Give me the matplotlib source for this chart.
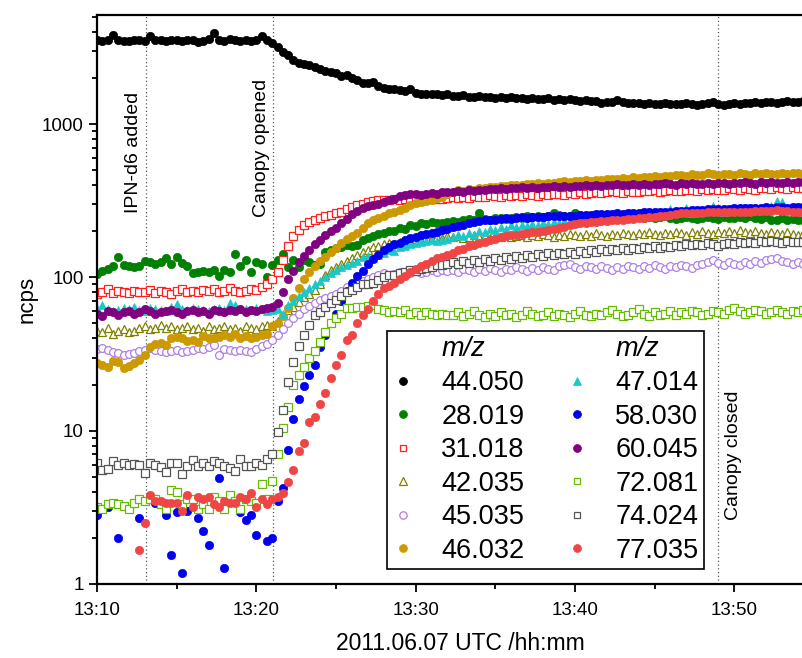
import numpy as np
import matplotlib
matplotlib.use("Agg")
import matplotlib.pyplot as plt
from matplotlib.lines import Line2D
from matplotlib.ticker import FixedLocator, NullFormatter

plt.rcParams['font.family'] = ['Liberation Sans', 'DejaVu Sans']

nan = np.nan
SAMPLE_S = 20  # instrument cycle time, seconds (time axis in minutes after 13:10)

mz_44_050 = [3550, 3500, 3550, 3800, 3550, 3500, 3500, 3550, 3550, 3500, 3750, 3550, 3550, 3500, 3550, 3550, 3500,
             3550, 3550, 3450, 3500, 3600, 3900, 3550, 3500, 3600, 3550, 3500, 3550, 3500, 3550, 3750, 3550, 3400,
             3200, 2950, 2800, 2600, 2500, 2480, 2420, 2350, 2300, 2220, 2170, 2140, 2060, 2100, 2000, 1950, 1850,
             1860, 1870, 1770, 1720, 1690, 1680, 1660, 1650, 1690, 1600, 1570, 1560, 1560, 1580, 1540, 1560,
             1530, 1520, 1540, 1510, 1500, 1520, 1490, 1500, 1480, 1490, 1470, 1500, 1480, 1470, 1460, 1480, 1450,
             1460, 1470, 1440, 1450, 1430, 1450, 1440, 1420, 1430, 1410, 1420, 1380, 1390, 1400, 1430, 1390, 1380,
             1370, 1380, 1360, 1370, 1360, 1350, 1370, 1360, 1350, 1360, 1380, 1360, 1340, 1350, 1370, 1390, 1350,
             1340, 1360, 1370, 1360, 1380, 1370, 1390, 1380, 1400, 1390, 1380, 1400, 1410, 1390, 1400, 1420]
mz_28_019 = [105, 110, 114, 118, 135, 120, 119, 116, 118, 127, 125, 122, 125, 133, 122, 136, 124, 118, 106, 109, 110,
             109, 112, 102, 111, 108, 143, 118, 129, 108, 125, 123, 100, 120,
             130, 143, 116, 129, 116, 129, 125, 120, 122, 146, 150, 155, 157, 162, 160, 162, 175, 180, 185, 193, 195,
             202, 200, 211, 208, 218, 215, 226, 222, 228, 225, 225, 228,
             232, 230, 235, 240, 238, 262, 240, 238, 242, 245, 240, 245, 248, 244, 250, 246, 252, 248, 250, 262, 255,
             250, 252, 262, 255, 250, 248, 252, 246, 250, 242, 245, 248, 244, 250, 246, 245, 248, 242, 246, 250, 244,
             240, 242, 248, 245, 240, 244, 246, 242, 240, 248, 244, 242, 246, 242, 250, 244, 240, 246, 238, 235, 242,
             238, 240, 235, 238]
mz_31_018 = [78, 80, 84, 79, 82, 80, 79, 81, 80, 80, 83, 79, 81, 80, 78, 82, 84, 80, 82, 80, 83, 81, 84, 80, 82, 85,
             81, 80, 82, 84, 83, 86, 91, 98,
             108, 130, 160, 185, 205, 220, 228, 235, 242, 250, 255, 262, 266, 280, 288, 295, 302, 310, 316, 318, 320,
             318, 322, 320, 324, 318, 322, 320, 326, 322, 326, 322, 328,
             332, 328, 335, 330, 338, 334, 336, 342, 338, 335, 344, 340, 346, 341, 348, 343, 339, 350, 346, 352, 348,
             345, 355, 350, 358, 352, 356, 362, 354, 358, 364, 360, 356, 366, 362, 358, 368, 364, 370, 362, 366, 372,
             368, 364, 374, 370, 366, 376, 372, 378, 370, 374, 380, 376, 372, 382, 378, 374, 384, 380, 376, 386, 382,
             378, 388, 384, 380]
mz_42_035 = [45, 44, 47, 43, 45, 46, 44, 45, 47, 48, 46, 47, 49, 47, 48, 46, 47, 48, 46, 47, 45, 48, 46, 47, 48, 46,
             47, 45, 48, 47, 46, 48, 49, 48,
             52, 57, 61, 64, 69, 74, 78, 83, 90, 103, 111, 117, 122, 127, 133, 139, 146, 150, 157, 160, 164, 167, 165,
             169, 172, 170, 178, 176, 182, 180, 184, 181, 185,
             183, 186, 180, 184, 188, 183, 186, 181, 187, 184, 189, 182, 186, 190, 184, 188, 185, 191, 188, 184, 190,
             186, 193, 188, 185, 191, 187, 194, 189, 186, 193, 190, 196, 191, 188, 195, 192, 198, 193, 189, 196, 192,
             199, 194, 190, 197, 193, 200, 195, 191, 198, 194, 201, 196, 204, 198, 194, 200, 196, 192, 199, 195, 191,
             197, 193, 190, 195]
mz_45_035 = [34, 34.5, 33.5, 32.5, 32, 31, 31.5, 32, 33, 33.5, 34.5, 33.5, 33, 32.5, 33, 33.5, 32.5, 33, 33.5, 34.5,
             34, 35, 36, 31, 34, 33.5, 33, 33.5, 33, 32.5, 34, 35.5, 37, 39,
             42, 46, 50, 54, 58, 62, 65, 68, 71, 73, 75, 78, 82, 86, 89, 91, 95, 98, 100, 104, 106, 103, 105, 108, 104,
             107, 110, 106, 108, 111, 109, 112, 110,
             112, 109, 114, 111, 108, 113, 110, 115, 112, 109, 114, 111, 116, 113, 110, 115, 112, 117, 114, 111, 118,
             121, 123, 117, 114, 119, 116, 113, 118, 115, 112, 117, 114, 119, 116, 113, 118, 115, 120, 117, 114, 119,
             116, 121, 118, 115, 120, 123, 126, 129, 124, 121, 126, 123, 120, 125, 122, 127, 124, 129, 131, 133, 128,
             125, 123, 126, 122]
mz_46_032 = [27.5, 27, 26, 28.5, 28, 25.5, 26.5, 27.5, 29, 31, 35, 37, 37.5, 36, 40.5, 41, 40, 38.5, 39, 38, 41.5,
             40.5, 40, 41, 42, 41, 42.5, 40, 41.5, 40.5, 41, 42, 43, 48,
             50, 56, 63, 73, 85, 98, 108, 118, 128, 136, 146, 156, 168, 178, 185, 195, 210, 225, 235, 245, 252, 262,
             266, 275, 285, 295, 305, 310, 316, 320, 328, 335, 350,
             362, 370, 366, 378, 374, 385, 382, 390, 386, 395, 392, 398, 402, 398, 406, 404, 410, 406, 415, 412, 418,
             422, 418, 426, 422, 430, 428, 434, 430, 438, 440, 436, 444, 440, 448, 444, 452, 448, 456, 452, 460, 456,
             462, 466, 460, 470, 464, 468, 476, 470, 466, 474, 470, 468, 476, 472, 468, 476, 472, 478, 474, 470, 478,
             474, 480, 476, 472]
mz_47_014 = [63, 66, 62, 60, 61, 63, 62, 64, 61, 60, 63, 62, 61, 60, 64, 67, 62, 61, 63, 62, 61, 60, 62, 63, 61, 68,
             66, 62, 62, 61, 63, 62, 60, 61,
             62, 58, 66, 70, 75, 80, 85, 90, 94, 100, 106, 112, 117, 120, 124, 128, 135, 138, 134, 140, 145, 150, 148,
             158, 160, 165, 168, 170, 173, 176, 172, 175, 178,
             182, 188, 185, 194, 190, 202, 198, 206, 203, 212, 208, 218, 213, 220, 216, 224, 219, 226, 222, 230, 225,
             232, 228, 236, 233, 240, 236, 244, 239, 246, 242, 250, 245, 252, 248, 256, 251, 258, 253, 262, 256, 280,
             262, 268, 285, 264, 270, 266, 275, 290, 272, 268, 276, 272, 280, 274, 270, 278, 274, 282, 290, 315, 308,
             280, 276, 272, 278]
mz_58_030 = [2.8, nan, 3.2, nan, 2.0, nan, nan, nan, 2.7, nan, nan, 3.4, nan, 2.8, 1.55, 2.95, 1.18, 3.0, nan, 2.7,
             2.2, 1.8, nan, 4.9, 1.27, nan, nan, 2.95, 2.6, 2.8, 2.1, nan, 1.9, 2.0,
             3.5, 4.2, 7.5, 12, 16, 19.5, 23, 27, 35, 42, 50, 58, 70, 82, 92, 102, 110, 122, 132, 140, 150, 158, 164,
             168, 176, 180, 184, 188, 193, 195, 198, 203, 208,
             212, 216, 221, 225, 229, 234, 235, 238, 237, 240, 242, 241, 244, 246, 245, 247, 249, 248, 250, 251, 250,
             252, 253, 252, 254, 255, 254, 257, 258, 257, 260, 261, 260, 262, 263, 262, 265, 266, 265, 267, 268, 267,
             270, 271, 270, 273, 275, 274, 277, 278, 280, 281, 280, 282, 283, 282, 284, 285, 284, 286, 285, 287, 286,
             285, 287, 286, 288]
mz_60_045 = [58, 56, 60, 59, 57, 59, 60, 58, 59, 62, 60, 58, 59, 60, 61, 59, 58, 60, 61, 59, 60, 58, 61, 60, 59, 61,
             60, 62, 59, 61, 60, 62, 63, 64,
             68, 80, 97, 110, 125, 138, 150, 165, 176, 188, 200, 210, 225, 240, 258, 272, 285, 292, 298, 303, 308, 318,
             326, 340, 345, 352, 348, 345, 352, 356, 350, 360, 358,
             362, 366, 360, 370, 368, 374, 370, 378, 375, 380, 376, 384, 380, 386, 382, 388, 384, 390, 386, 392, 388,
             395, 390, 396, 392, 398, 394, 400, 396, 402, 398, 404, 400, 398, 405, 402, 406, 400, 408, 404, 410, 405,
             402, 410, 406, 412, 408, 404, 412, 408, 414, 410, 406, 414, 410, 416, 412, 408, 416, 412, 418, 414, 410,
             418, 414, 420, 416]
mz_72_081 = [3.2, 3.1, 3.3, 3.4, 3.3, 3.25, 3.1, 3.4, 3.6, 3.5, 3.6, 3.6, 3.3, 3.1, 4.1, 4.0, 3.3, 3.6, 3.6, 3.1,
             3.3, 3.1, 3.7, 3.5, 3.1, 3.8, 3.5, 3.1, 3.6, 3.5, 3.4, 4.5, 3.6, 4.7,
             7.0, 10.4, 14.2, 19.8, 23, 26, 29.7, 33, 38, 44, 50, 54, 58, 63, 63, 64, 64, 65, 65.6, 62, 61, 59, 60, 59,
             61, 58, 59, 57, 59, 58, 56.5, 58, 57,
             57, 59, 56, 58, 60, 57, 55, 58, 56, 59, 57, 58, 55, 57, 60, 58, 56, 57, 59, 56, 58, 57, 55, 58, 60, 57,
             56, 58, 57, 59, 61, 58, 56, 57, 59, 62, 58, 56, 59, 57, 58, 60, 57, 59, 58, 60, 59, 57, 58, 60, 59, 58,
             61, 63, 60, 58, 59, 61, 60, 58, 59, 61, 59, 58, 60, 59, 61]
mz_74_024 = [6.2, 5.5, 5.6, 6.3, 6.0, 6.2, 6.0, 6.1, 6.0, 5.3, 6.2, 6.0, 5.8, 5.4, 6.2, 6.2, 5.2, 5.9, 6.4, 5.9, 6.2,
             5.9, 6.3, 6.2, 5.9, 5.7, 5.45, 6.5, 5.9, 5.9, 6.2, 6.0, 6.5, 7.0,
             9.8, 13.6, 20.7, 28, 35.5, 42, 48.6, 56.5, 59, 64, 68, 70.7, 75, 80, 83, 86, 90, 91, 92, 96, 100, 103,
             104, 106, 108, 111, 110, 113, 115, 117, 120, 121, 123,
             125, 122, 127, 124, 129, 126, 131, 128, 133, 130, 135, 132, 137, 134, 139, 136, 141, 138, 144, 140, 145,
             142, 147, 143, 148, 145, 150, 147, 152, 148, 153, 150, 155, 151, 156, 153, 158, 155, 159, 156, 161, 158,
             163, 160, 165, 162, 166, 163, 168, 165, 160, 164, 168, 165, 170, 167, 171, 168, 172, 169, 173, 170, 168,
             172, 169, 171, 170]
mz_77_035 = [nan, nan, nan, nan, nan, nan, nan, nan, 1.66, 2.5, 3.8, 3.5, 3.5, 3.4, 3.4, 3.4, 3.0, 3.8, 3.2, 3.7,
             3.6, 3.7, 3.3, 3.2, 3.5, 3.4, 3.4, 3.7, 3.6, 3.9, 3.2, 3.6, 3.3, 3.6,
             3.7, 3.9, 4.6, 5.5, 7.4, 8.3, 11.4, 12.2, 14.9, 17.5, 22, 26.7, 31, 38.8, 41.8, 50, 56.5, 62, 70, 78, 85,
             88, 92, 98, 102, 108, 113, 118, 122, 128, 134, 136, 140,
             145, 150, 154, 159, 163, 168, 171, 175, 178, 182, 185, 188, 190, 193, 195, 197, 199, 201, 203, 206, 210,
             214, 218, 222, 225, 227, 229, 230, 232, 234, 235, 237, 238, 240, 241, 243, 244, 246, 248, 250, 253, 255,
             258, 261, 262, 263, 264, 264, 265, 266, 265, 266, 266, 267, 266, 267, 268, 269, 270, 271, 272, 273, 272,
             270, 268, 266, 267]

mz_labels = ['44.050', '28.019', '31.018', '42.035', '45.035', '46.032',
             '47.014', '58.030', '60.045', '72.081', '74.024', '77.035']
series = [mz_44_050, mz_28_019, mz_31_018, mz_42_035, mz_45_035, mz_46_032,
          mz_47_014, mz_58_030, mz_60_045, mz_72_081, mz_74_024, mz_77_035]
# (marker, colour, filled)
styles = [('o', '#000000', True), ('o', '#008000', True), ('s', '#FF2020', False),
          ('^', '#808000', False), ('o', '#B07FE6', False), ('o', '#CC9900', True),
          ('^', '#1CC7C7', True), ('o', '#0000F0', True), ('o', '#800080', True),
          ('s', '#66BB00', False), ('s', '#555555', False), ('o', '#F04545', True)]

xtick_min = [0, 10, 20, 30, 40, 50]
xtick_lbl = ['13:10', '13:20', '13:30', '13:40', '13:50', '14:00']
ytick_val = [1, 10, 100, 1000]
ytick_lbl = ['1', '10', '100', '1000']

W, H = 803, 658
fig = plt.figure(figsize=(W / 100, H / 100), dpi=100)
ax = fig.add_axes([97 / W, 1 - 584 / H, 1 - 97 / W, (584 - 15) / H])

handles = []
for vals, (mk, col, filled) in zip(series, styles):
    v = np.asarray(vals, dtype=float)
    t = np.arange(len(v)) * SAMPLE_S / 60.0
    if mk == 'o':
        ms = 6.0 if filled else 5.6
    elif mk == 's':
        ms = 5.2
    else:
        ms = 6.3
    h, = ax.plot(t, v, linestyle='none', marker=mk, markersize=ms,
                 markerfacecolor=col if filled else 'white',
                 markeredgecolor=col, markeredgewidth=0.5 if filled else 0.9)
    handles.append(h)

ax.set_yscale('log')
ax.set_xlim(0, (803 - 97) / 15.93)
ax.set_ylim(1, 5140)

ax.xaxis.set_major_locator(FixedLocator(xtick_min))
ax.set_xticklabels(xtick_lbl)
ax.xaxis.set_minor_locator(FixedLocator([5, 15, 25, 35, 45]))
ax.yaxis.set_major_locator(FixedLocator(ytick_val))
ax.set_yticklabels(ytick_lbl)
ax.yaxis.set_minor_locator(FixedLocator([m * 10 ** d for d in range(4) for m in range(2, 10)]))
ax.yaxis.set_minor_formatter(NullFormatter())

for s in ['left', 'bottom', 'top']:
    ax.spines[s].set_linewidth(1.6)
ax.spines['right'].set_visible(False)
ax.tick_params(which='both', direction='out', width=1.3, top=False, right=False, labelsize=13.5)
ax.tick_params(which='major', length=6)
ax.tick_params(which='minor', length=3.5)
ax.tick_params(axis='x', pad=7)

ax.set_xlabel('2011.06.07 UTC /hh:mm', fontsize=16.5)
ax.set_ylabel('ncps', fontsize=16)
ax.xaxis.set_label_coords((460 - 97) / 706, (584 - 632) / 569)
ax.yaxis.set_label_coords((38 - 97) / 706, 0.5)

for tx in [3.08, 11.05, 39.0]:
    ax.axvline(tx, color='#555555', linestyle=(0, (1, 2)), linewidth=0.9, zorder=0.5)
ann = [('IPN-d6 added', 3.08 - 0.25, 0.759, 'right'),
       ('Canopy opened', 11.05 - 0.2, 0.766, 'right'),
       ('Canopy closed', 39.0 + 0.45, 0.227, 'left')]
for lbl, xd, ya, ha in ann:
    ax.text(xd, ya, lbl, rotation=90, ha=ha, va='center', fontsize=14,
            transform=ax.get_xaxis_transform())

blank = Line2D([], [], linestyle='none', marker='none')
leg_h = [blank] + handles[:6] + [blank] + handles[6:]
leg_l = ['m/z'] + mz_labels[:6] + ['m/z'] + mz_labels[6:]
leg = fig.legend(leg_h, leg_l, ncol=2, loc='upper left',
                 bbox_to_anchor=(387 / W, 1 - 331 / H), bbox_transform=fig.transFigure,
                 fontsize=19.5, frameon=True, fancybox=False, framealpha=1,
                 edgecolor='black', borderpad=0.2, handlelength=0.8, handletextpad=1.0,
                 columnspacing=1.55, labelspacing=0.28, borderaxespad=0, markerscale=0.95)
leg.get_frame().set_linewidth(1.2)
for txt in leg.get_texts():
    if txt.get_text() == 'm/z':
        txt.set_fontstyle('italic')

fig.savefig('out.png', dpi=100)
